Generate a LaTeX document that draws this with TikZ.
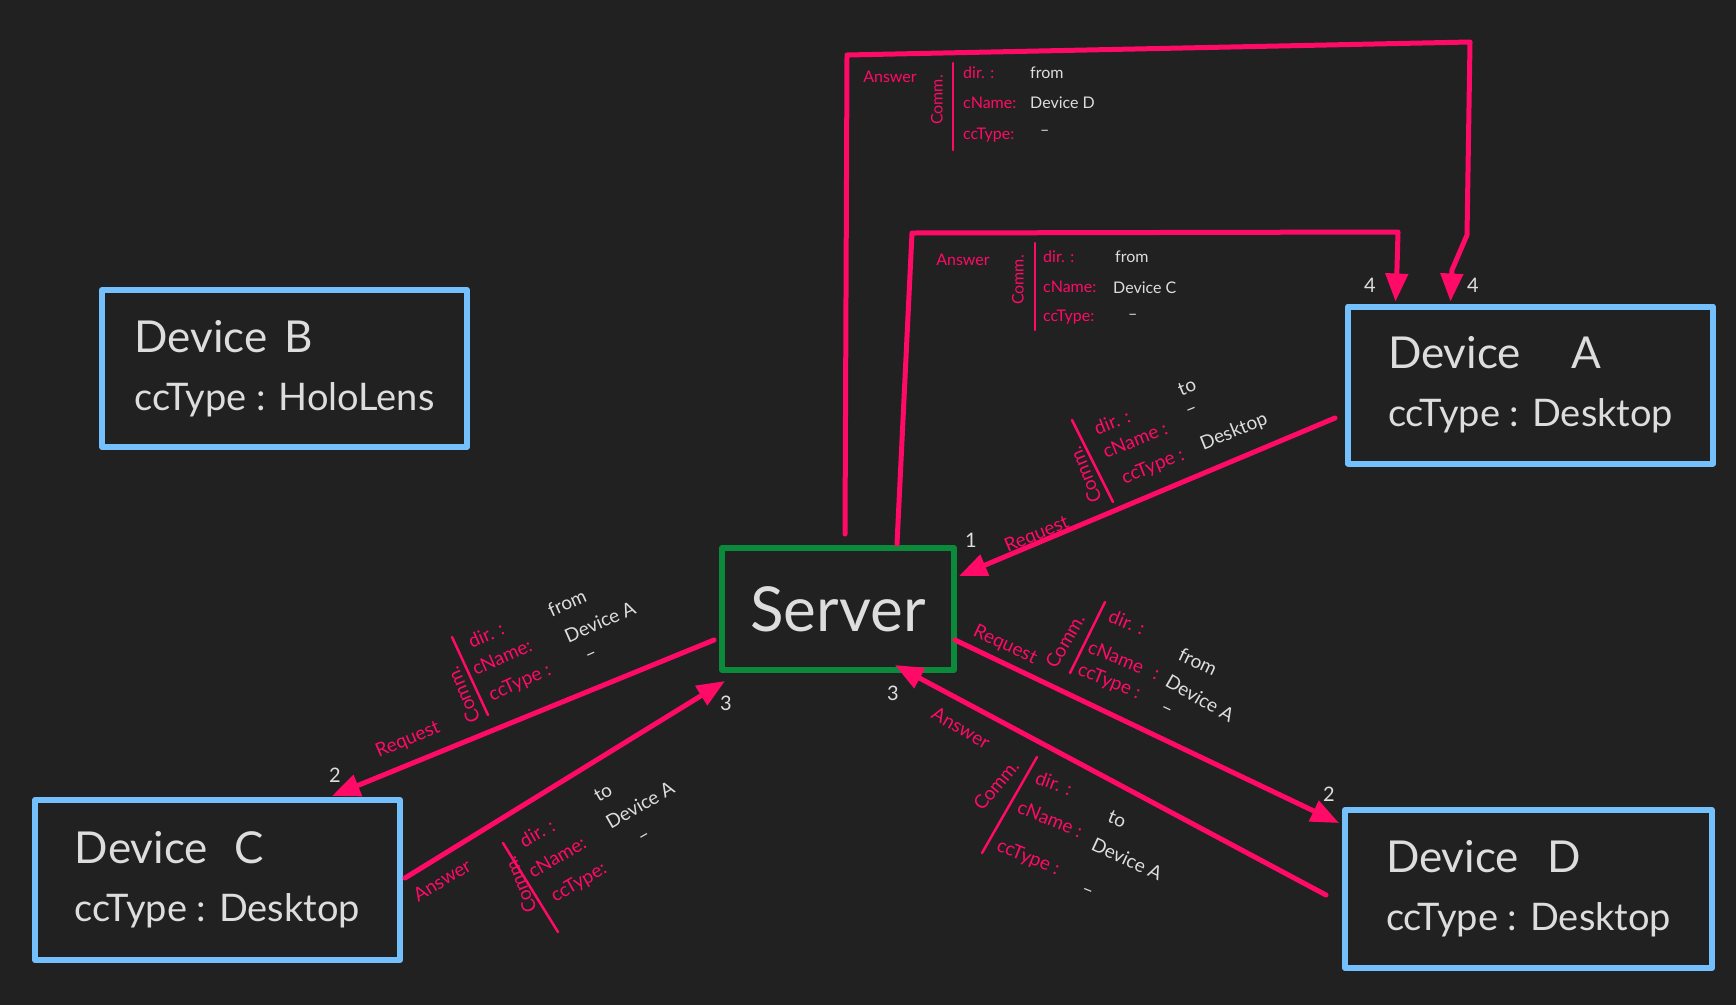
\documentclass[tikz,border=0pt]{standalone}
\usepackage{fontspec}
\setmainfont{Lato}
\usetikzlibrary{arrows.meta,calc}
\definecolor{bgc}{HTML}{212121}
\definecolor{pinkc}{HTML}{FF0A66}
\definecolor{bluec}{HTML}{74C0FC}
\definecolor{greenc}{HTML}{0A8A3A}
\definecolor{txtc}{HTML}{DDDDDD}
\begin{document}
\begin{tikzpicture}[x=1pt,y=-1pt,
  dev/.style={draw=bluec, line width=6pt, minimum width=365pt, minimum height=157pt,
    align=left, text=txtc, line join=round,
    font=\fontsize{38}{58}\selectfont},
  srvbox/.style={draw=greenc, line width=6pt, minimum width=232pt, minimum height=122pt,
    text=txtc, font=\fontsize{62}{70}\selectfont, line join=round},
  conn/.style={draw=pinkc, line width=5pt, line cap=round, line join=round,
    -{Triangle[length=28pt,width=22pt]}},
  bar/.style={draw=pinkc, line width=2.5pt, line cap=round},
  fl/.style={text=pinkc, inner sep=0pt, font=\fontsize{16}{18}\selectfont},
  fv/.style={text=txtc, inner sep=0pt, font=\fontsize{16}{18}\selectfont},
  rl/.style={text=pinkc, inner sep=0pt, font=\fontsize{19}{21}\selectfont},
  rv/.style={text=txtc, inner sep=0pt, font=\fontsize{19}{21}\selectfont},
  num/.style={text=txtc, inner sep=0pt, font=\fontsize{20}{22}\selectfont}]
\fill[bgc] (0,0) rectangle (1736,1005);
\useasboundingbox (0,0) rectangle (1736,1005);

% devices
\node[dev] (B) at (284.5,368.5) {{\fontsize{44}{58}\selectfont Device\hspace{6pt} B}\\ccType : HoloLens};
\node[dev] (A) at (1530.5,385) {{\fontsize{44}{58}\selectfont Device\hspace{50pt}A}\\ccType : Desktop};
\node[dev, minimum height=160pt] (C) at (217.5,880) {{\fontsize{44}{58}\selectfont Device\hspace{26pt}C}\\ccType : Desktop};
\node[dev, minimum width=367pt, minimum height=158pt] (D) at (1528.5,889) {{\fontsize{44}{58}\selectfont Device\hspace{28pt}D}\\ccType : Desktop};
\node[srvbox] (S) at (838,609) {Server};

% connectors
\draw[conn] ([xshift=7pt,yshift=11pt]S.north) -- (847,55) -- (1470,42) -- (1467,235) -- (1452,270) -- ([xshift=-80pt,yshift=2pt]A.north);
\draw[conn] ([xshift=59pt,yshift=1pt]S.north) -- (912,233) -- (1398,232) -- (1397,268) -- ([xshift=-135pt,yshift=2pt]A.north);
\draw[conn] ([xshift=-10pt,yshift=-33pt]A.west) -- ([xshift=2pt,yshift=33pt]S.east);
\draw[conn] ([xshift=-5pt,yshift=-31pt]S.west) -- ([xshift=114.5pt,yshift=1pt]C.north);
\draw[conn] ([xshift=2pt,yshift=2pt]C.east) -- ([xshift=6pt,yshift=-8pt]S.south west);
\draw[conn] ([xshift=-2pt,yshift=-31pt]S.east) -- ([xshift=-3pt,yshift=66pt]D.west);
\draw[conn] ([xshift=-16pt,yshift=-6pt]D.west) -- ([xshift=57pt,yshift=8pt]S.south);

% step numbers
\node[num] (n1) at (971,540) {1};
\node[num] (n2c) at (335,775) {2};
\node[num] (n3c) at (726,703) {3};
\node[num] (n2d) at (1329,794) {2};
\node[num] (n3d) at (893,693) {3};
\node[num] (n4a) at (1370,285) {4};
\node[num] (n4b) at (1473,285) {4};

% outer answer block
\node[fl] (t1a) at (890,77) {Answer};
\node[fl,rotate=90] (t1b) at (937,100) {Comm.};
\draw[bar] (953,63) -- (953,150);
\node[fl,anchor=west] (t1c) at (963,73) {dir. :};
\node[fl,anchor=west] (t1d) at (963,103) {cName:};
\node[fl,anchor=west] (t1e) at (963,135) {ccType:};
\node[fv,anchor=west] (t1f) at (1030,73) {from};
\node[fv,anchor=west] (t1g) at (1030,103) {Device D};
\node[fv,anchor=west] (t1h) at (1040,133) {\textendash};

% inner answer block
\node[fl] (t2a) at (963,260) {Answer};
\node[fl,rotate=90] (t2b) at (1018,280) {Comm.};
\draw[bar] (1035,243) -- (1035,330);
\node[fl,anchor=west] (t2c) at (1043,257) {dir. :};
\node[fl,anchor=west] (t2d) at (1043,287) {cName:};
\node[fl,anchor=west] (t2e) at (1043,317) {ccType:};
\node[fv,anchor=west] (t2f) at (1115,257) {from};
\node[fv,anchor=west] (t2g) at (1113,288) {Device C};
\node[fv,anchor=west] (t2h) at (1128,317) {\textendash};

% request A -> server
\node[rl,rotate=23] (t3a) at (1037,535) {Request};
\node[rl,rotate=112] (t3b) at (1085,475) {Comm.};
\draw[bar] (1072,420) -- (1113,502);
\node[rl,rotate=22] (t3c) at (1112,422) {dir. :};
\node[rl,rotate=22] (t3d) at (1135,440) {cName :};
\node[rl,rotate=22] (t3e) at (1153,467) {ccType :};
\node[rv,rotate=22] (t3f) at (1187,387) {to};
\node[rv,rotate=22] (t3g) at (1192,412) {\textendash};
\node[rv,rotate=22] (t3h) at (1234,432) {Desktop};

% request server -> C
\node[rl,rotate=23] (t4a) at (408,740) {Request};
\node[rl,rotate=113] (t4b) at (463,695) {Comm.};
\draw[bar] (452,637) -- (488,715);
\node[rl,rotate=24] (t4c) at (486,635) {dir. :};
\node[rl,rotate=24] (t4d) at (502,657) {cName:};
\node[rl,rotate=24] (t4e) at (520,683) {ccType :};
\node[rv,rotate=24] (t4f) at (567,603) {from};
\node[rv,rotate=24] (t4g) at (600,622) {Device A};
\node[rv,rotate=24] (t4h) at (592,656) {\textendash};

% answer C -> server
\node[rl,rotate=31] (t5a) at (442,880) {Answer};
\node[rl,rotate=112] (t5b) at (520,885) {Comm.};
\draw[bar] (503,843) -- (558,932);
\node[rl,rotate=30] (t5c) at (537,833) {dir. :};
\node[rl,rotate=30] (t5d) at (557,857) {cName:};
\node[rl,rotate=30] (t5e) at (579,883) {ccType:};
\node[rv,rotate=30] (t5f) at (603,793) {to};
\node[rv,rotate=30] (t5g) at (640,805) {Device A};
\node[rv,rotate=30] (t5h) at (645,838) {\textendash};

% request server -> D
\node[rl,rotate=-25] (t6a) at (1005,645) {Request};
\node[rl,rotate=60] (t6b) at (1065,641) {Comm.};
\draw[bar] (1105,602) -- (1070,673);
\node[rl,rotate=-22] (t6c) at (1127,622) {dir. :};
\node[rl,rotate=-22] (t6d) at (1124,660) {cName\hspace{12pt}:};
\node[rl,rotate=-22] (t6e) at (1109,682) {ccType :};
\node[rv,rotate=-25] (t6f) at (1198,662) {from};
\node[rv,rotate=-30] (t6g) at (1200,698) {Device A};
\node[rv,rotate=-25] (t6h) at (1166,711) {\textendash};

% answer D -> server
\node[rl,rotate=-30] (t7a) at (961,728) {Answer};
\node[rl,rotate=50] (t7b) at (996,785) {Comm.};
\draw[bar] (1037,757) -- (982,853);
\node[rl,rotate=-20] (t7c) at (1054,783) {dir. :};
\node[rl,rotate=-22] (t7d) at (1050,819) {cName :};
\node[rl,rotate=-22] (t7e) at (1028,858) {ccType :};
\node[rv,rotate=-22] (t7f) at (1117,819) {to};
\node[rv,rotate=-25] (t7g) at (1127,859) {Device A};
\node[rv,rotate=-22] (t7h) at (1087,893) {\textendash};
\end{tikzpicture}
\end{document}
